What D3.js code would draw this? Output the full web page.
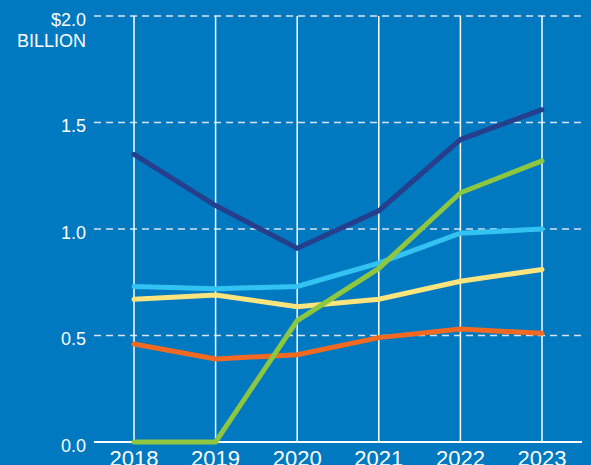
<!DOCTYPE html>
<html>
<head>
<meta charset="utf-8">
<script src="https://cdn.jsdelivr.net/npm/d3@7"></script>
<style>
  html, body { margin: 0; padding: 0; background: #0079c1; overflow: hidden; }
  svg { display: block; }
  text { font-family: "Liberation Sans", Arial, Helvetica, sans-serif; fill: #ffffff; }
</style>
</head>
<body>
<svg id="chart" width="591" height="465"></svg>
<script>
const years = ["2018", "2019", "2020", "2021", "2022", "2023"];
const yTicks = [0.0, 0.5, 1.0, 1.5, 2.0];
const yTickLabels = ["0.0", "0.5", "1.0", "1.5", "$2.0"];
const unitLabel = "BILLION";

const navyValues   = [1.35, 1.11, 0.91, 1.085, 1.42, 1.56];
const orangeValues = [0.46, 0.39, 0.41, 0.49, 0.53, 0.51];
const yellowValues = [0.67, 0.69, 0.635, 0.67, 0.755, 0.81];
const lightBlueValues = [0.73, 0.72, 0.73, 0.84, 0.98, 1.0];
const greenValues  = [0.0, 0.0, 0.57, 0.815, 1.17, 1.32];

const seriesColors = ["#263f8c", "#f26a22", "#fde47c", "#33c3f2", "#8dc63f"];
const seriesList = [navyValues, orangeValues, yellowValues, lightBlueValues, greenValues];

const svg = d3.select("#chart");
const W = 591, H = 465;

const x = d3.scalePoint().domain(years).range([134, 542]);
const y = d3.scaleLinear().domain([0, 2]).range([442, 16]);

const gridLeft = 94, gridRight = 582;

// horizontal dashed gridlines (excluding zero)
svg.append("g").selectAll("line")
  .data(yTicks.filter(d => d > 0))
  .join("line")
  .attr("x1", gridLeft).attr("x2", gridRight)
  .attr("y1", d => y(d)).attr("y2", d => y(d))
  .attr("stroke", "#d4e6f3")
  .attr("stroke-width", 1.6)
  .attr("stroke-dasharray", "7,5");

// vertical lines per year
svg.append("g").selectAll("line")
  .data(years)
  .join("line")
  .attr("x1", d => x(d)).attr("x2", d => x(d))
  .attr("y1", y(2)).attr("y2", y(0))
  .attr("stroke", "#ffffff")
  .attr("stroke-width", 1.5);

// baseline
svg.append("line")
  .attr("x1", gridLeft).attr("x2", gridRight)
  .attr("y1", y(0)).attr("y2", y(0))
  .attr("stroke", "#ffffff")
  .attr("stroke-width", 2.2);

// y labels
svg.append("g").selectAll("text")
  .data(yTicks)
  .join("text")
  .attr("x", 86)
  .attr("y", d => y(d) + 9.5)
  .attr("text-anchor", "end")
  .attr("font-size", 18)
  .text((d, i) => yTickLabels[i]);

svg.append("text")
  .attr("x", 86)
  .attr("y", y(2) + 31)
  .attr("text-anchor", "end")
  .attr("font-size", 18)
  .text(unitLabel);

// x labels
svg.append("g").selectAll("text")
  .data(years)
  .join("text")
  .attr("x", d => x(d))
  .attr("y", 466)
  .attr("text-anchor", "middle")
  .attr("font-size", 22)
  .text(d => d);

// lines
const line = d3.line()
  .x((d, i) => x(years[i]))
  .y(d => y(d));

svg.append("g").selectAll("path")
  .data(seriesList)
  .join("path")
  .attr("d", d => line(d))
  .attr("fill", "none")
  .attr("stroke", (d, i) => seriesColors[i])
  .attr("stroke-width", 5)
  .attr("stroke-linecap", "round")
  .attr("stroke-linejoin", "miter");
</script>
</body>
</html>
